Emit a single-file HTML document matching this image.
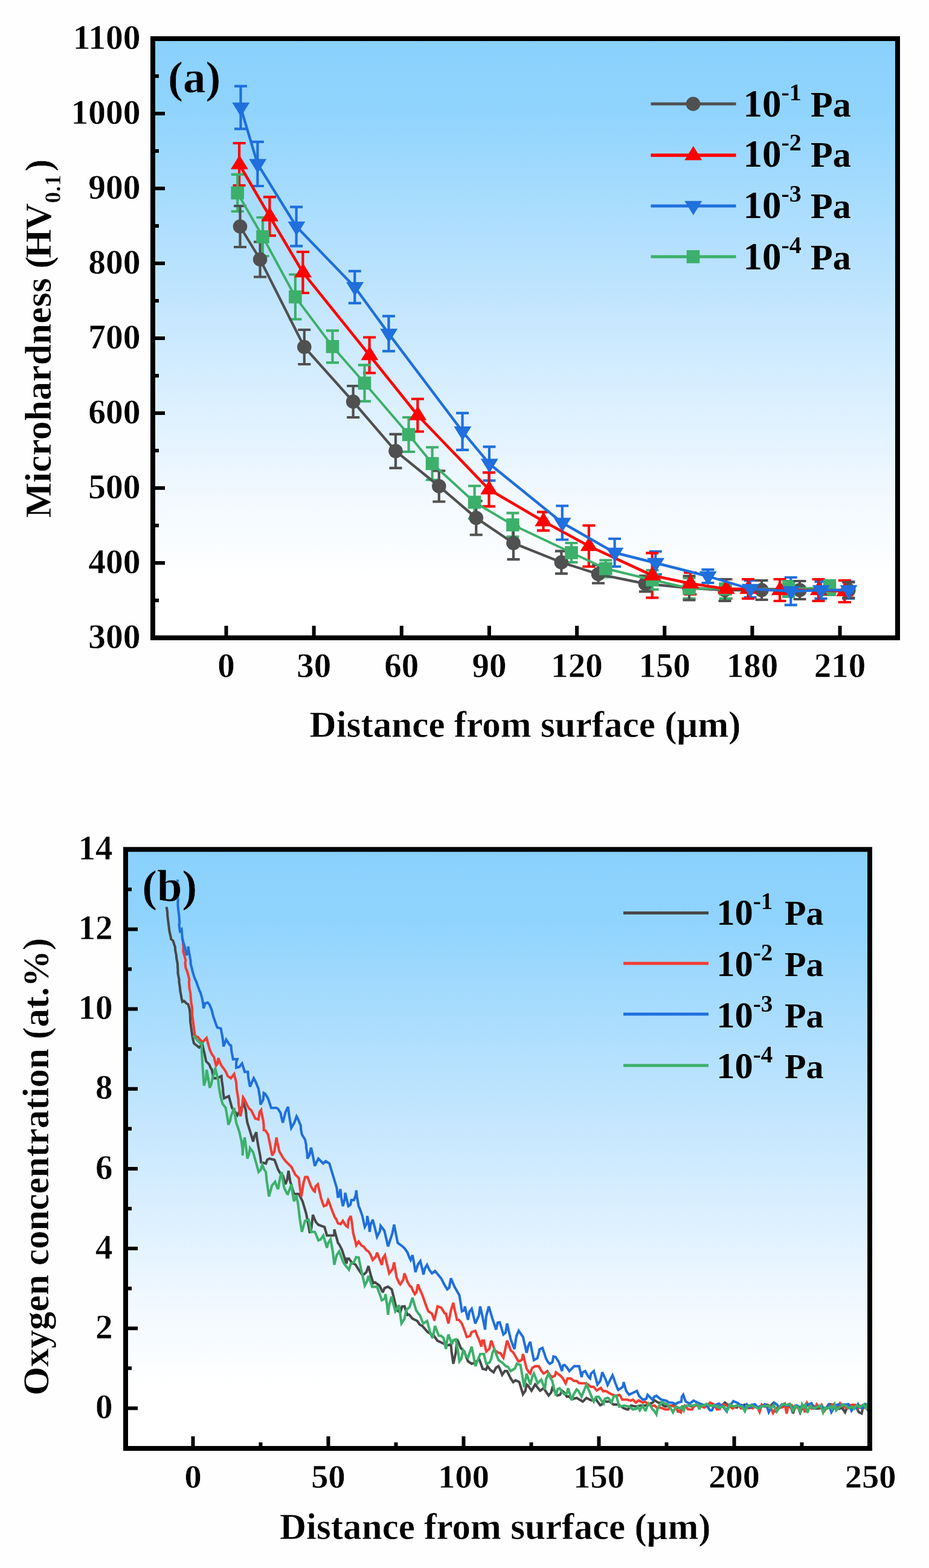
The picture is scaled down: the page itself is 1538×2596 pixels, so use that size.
<!DOCTYPE html>
<html lang="en">
<head>
<meta charset="utf-8">
<title>Microhardness and oxygen concentration profiles</title>
<style>
html,body{margin:0;padding:0;background:#fefefe;}
body{width:1538px;height:2596px;overflow:hidden;}
svg{display:block;}
text{font-kerning:normal;}
</style>
</head>
<body>
<svg width="1538" height="2596" viewBox="0 0 1538 2596" font-family='"Liberation Serif", "DejaVu Serif", serif' font-weight="bold" fill="#000">
<defs>
<linearGradient id="gA" x1="0" y1="0" x2="0" y2="1">
<stop offset="0" stop-color="#89d1fe"/><stop offset="0.12" stop-color="#90d4fd"/><stop offset="0.45" stop-color="#c4e6fe"/><stop offset="0.75" stop-color="#f0f8ff"/><stop offset="0.9" stop-color="#ffffff"/><stop offset="1" stop-color="#ffffff"/>
</linearGradient>
<linearGradient id="gB" x1="0" y1="0" x2="0" y2="1">
<stop offset="0" stop-color="#89d1fe"/><stop offset="0.12" stop-color="#90d4fd"/><stop offset="0.45" stop-color="#c4e6fe"/><stop offset="0.75" stop-color="#f0f8ff"/><stop offset="0.9" stop-color="#ffffff"/><stop offset="1" stop-color="#ffffff"/>
</linearGradient>
<linearGradient id="gAu" gradientUnits="userSpaceOnUse" x1="0" y1="64" x2="0" y2="1056">
<stop offset="0" stop-color="#89d1fe"/><stop offset="0.12" stop-color="#90d4fd"/><stop offset="0.45" stop-color="#c4e6fe"/><stop offset="0.75" stop-color="#f0f8ff"/><stop offset="0.9" stop-color="#ffffff"/><stop offset="1" stop-color="#ffffff"/>
</linearGradient>
<linearGradient id="gBu" gradientUnits="userSpaceOnUse" x1="0" y1="1406.3" x2="0" y2="2398">
<stop offset="0" stop-color="#89d1fe"/><stop offset="0.12" stop-color="#90d4fd"/><stop offset="0.45" stop-color="#c4e6fe"/><stop offset="0.75" stop-color="#f0f8ff"/><stop offset="0.9" stop-color="#ffffff"/><stop offset="1" stop-color="#ffffff"/>
</linearGradient>
</defs>
<rect width="1538" height="2596" fill="#fefefe"/>
<g id="chartA">
<rect x="253.0" y="64.0" width="1233.0" height="992.0" fill="url(#gA)"/>
<path d="M253.0,1056.00h20M253.0,932.00h20M253.0,808.00h20M253.0,684.00h20M253.0,560.00h20M253.0,436.00h20M253.0,312.00h20M253.0,188.00h20M253.0,64.00h20M253.0,994.00h10M253.0,870.00h10M253.0,746.00h10M253.0,622.00h10M253.0,498.00h10M253.0,374.00h10M253.0,250.00h10M253.0,126.00h10M374.50,1056.0v-20M519.65,1056.0v-20M664.80,1056.0v-20M809.95,1056.0v-20M955.10,1056.0v-20M1100.24,1056.0v-20M1245.39,1056.0v-20M1390.54,1056.0v-20" stroke="#000" stroke-width="6.0" fill="none"/>
<path d="M398.5,142.6V213.4M388.0,142.6h21M388.0,213.4h21M426.4,234.8V308.0M415.9,234.8h21M415.9,308.0h21M490.6,342.6V407.4M480.1,342.6h21M480.1,407.4h21M587.3,448.8V501.8M576.8,448.8h21M576.8,501.8h21M643.5,523.4V581.4M633.0,523.4h21M633.0,581.4h21M765.6,683.8V744.8M755.1,683.8h21M755.1,744.8h21M810.0,739.7V795.7M799.5,739.7h21M799.5,795.7h21M930.8,837.5V893.5M920.3,837.5h21M920.3,893.5h21M1017.6,892.0V938.0M1007.1,892.0h21M1007.1,938.0h21M1085.3,913.0V951.0M1074.8,913.0h21M1074.8,951.0h21M1171.9,943.0V965.0M1161.4,943.0h21M1161.4,965.0h21M1242.0,961.0V989.0M1231.5,961.0h21M1231.5,989.0h21M1309.2,956.0V1001.6M1298.7,956.0h21M1298.7,1001.6h21M1359.0,963.0V991.0M1348.5,963.0h21M1348.5,991.0h21M1404.8,963.0V991.0M1394.3,963.0h21M1394.3,991.0h21" stroke="#1f6fdc" stroke-width="4.2" fill="none"/><path d="M396.1,237.0V307.0M385.6,237.0h21M385.6,307.0h21M446.4,326.2V390.2M435.9,326.2h21M435.9,390.2h21M501.4,417.0V485.0M490.9,417.0h21M490.9,485.0h21M611.6,558.5V617.5M601.1,558.5h21M601.1,617.5h21M691.4,660.5V714.5M680.9,660.5h21M680.9,714.5h21M809.5,782.3V838.3M799.0,782.3h21M799.0,838.3h21M899.5,847.6V878.4M889.0,847.6h21M889.0,878.4h21M974.9,870.0V938.0M964.4,870.0h21M964.4,938.0h21M1079.7,915.7V989.7M1069.2,915.7h21M1069.2,989.7h21M1142.8,948.0V984.0M1132.3,948.0h21M1132.3,984.0h21M1202.0,959.0V991.0M1191.5,959.0h21M1191.5,991.0h21M1238.5,959.0V991.0M1228.0,959.0h21M1228.0,991.0h21M1291.0,959.0V995.0M1280.5,959.0h21M1280.5,995.0h21M1355.0,959.0V995.0M1344.5,959.0h21M1344.5,995.0h21M1398.3,961.0V997.0M1387.8,961.0h21M1387.8,997.0h21" stroke="#ff0000" stroke-width="4.2" fill="none"/><path d="M393.2,288.8V350.0M382.7,288.8h21M382.7,350.0h21M435.0,360.0V424.0M424.5,360.0h21M424.5,424.0h21M488.9,454.5V528.5M478.4,454.5h21M478.4,528.5h21M550.5,547.3V600.3M540.0,547.3h21M540.0,600.3h21M603.5,604.3V664.3M593.0,604.3h21M593.0,664.3h21M676.6,691.0V748.0M666.1,691.0h21M666.1,748.0h21M715.6,740.5V794.5M705.1,740.5h21M705.1,794.5h21M785.6,804.5V858.5M775.1,804.5h21M775.1,858.5h21M848.9,849.3V888.7M838.4,849.3h21M838.4,888.7h21M946.0,899.0V931.0M935.5,899.0h21M935.5,931.0h21M1002.8,927.5V955.5M992.3,927.5h21M992.3,955.5h21M1080.0,944.0V976.0M1069.5,944.0h21M1069.5,976.0h21M1141.0,957.0V991.0M1130.5,957.0h21M1130.5,991.0h21M1201.0,959.0V991.0M1190.5,959.0h21M1190.5,991.0h21M1305.6,962.0V988.0M1295.1,962.0h21M1295.1,988.0h21M1373.5,961.0V985.0M1363.0,961.0h21M1363.0,985.0h21" stroke="#3cb06a" stroke-width="4.2" fill="none"/><path d="M397.5,341.0V409.0M387.0,341.0h21M387.0,409.0h21M430.6,400.5V458.5M420.1,400.5h21M420.1,458.5h21M503.8,546.0V603.0M493.3,546.0h21M493.3,603.0h21M584.7,639.0V691.0M574.2,639.0h21M574.2,691.0h21M655.0,718.8V774.8M644.5,718.8h21M644.5,774.8h21M726.8,779.5V830.5M716.3,779.5h21M716.3,830.5h21M788.3,829.5V885.5M777.8,829.5h21M777.8,885.5h21M850.0,872.2V926.2M839.5,872.2h21M839.5,926.2h21M929.4,912.3V949.7M918.9,912.3h21M918.9,949.7h21M990.5,935.5V965.5M980.0,935.5h21M980.0,965.5h21M1068.4,953.4V979.4M1057.9,953.4h21M1057.9,979.4h21M1141.0,953.5V993.5M1130.5,953.5h21M1130.5,993.5h21M1200.0,959.0V995.0M1189.5,959.0h21M1189.5,995.0h21M1261.0,961.0V993.0M1250.5,961.0h21M1250.5,993.0h21M1324.0,962.0V992.0M1313.5,962.0h21M1313.5,992.0h21M1404.8,964.0V990.0M1394.3,964.0h21M1394.3,990.0h21" stroke="#505050" stroke-width="4.2" fill="none"/><path d="M397.5,375.0L430.6,429.5L503.8,574.5L584.7,665.0L655.0,746.8L726.8,805.0L788.3,857.5L850.0,899.2L929.4,931.0L990.5,950.5L1068.4,966.4L1141.0,973.5L1200.0,977.0L1261.0,977.0L1324.0,977.0L1404.8,977.0" stroke="#505050" stroke-width="4.3" stroke-linejoin="round" fill="none"/><circle cx="397.5" cy="375.0" r="11.8" fill="#505050"/><circle cx="430.6" cy="429.5" r="11.8" fill="#505050"/><circle cx="503.8" cy="574.5" r="11.8" fill="#505050"/><circle cx="584.7" cy="665.0" r="11.8" fill="#505050"/><circle cx="655.0" cy="746.8" r="11.8" fill="#505050"/><circle cx="726.8" cy="805.0" r="11.8" fill="#505050"/><circle cx="788.3" cy="857.5" r="11.8" fill="#505050"/><circle cx="850.0" cy="899.2" r="11.8" fill="#505050"/><circle cx="929.4" cy="931.0" r="11.8" fill="#505050"/><circle cx="990.5" cy="950.5" r="11.8" fill="#505050"/><circle cx="1068.4" cy="966.4" r="11.8" fill="#505050"/><circle cx="1141.0" cy="973.5" r="11.8" fill="#505050"/><circle cx="1200.0" cy="977.0" r="11.8" fill="#505050"/><circle cx="1261.0" cy="977.0" r="11.8" fill="#505050"/><circle cx="1324.0" cy="977.0" r="11.8" fill="#505050"/><circle cx="1404.8" cy="977.0" r="11.8" fill="#505050"/><path d="M393.2,319.4L435.0,392.0L488.9,491.5L550.5,573.8L603.5,634.3L676.6,719.5L715.6,767.5L785.6,831.5L848.9,869.0L946.0,915.0L1002.8,941.5L1080.0,960.0L1141.0,974.0L1201.0,975.0L1305.6,975.0L1373.5,973.0" stroke="#3cb06a" stroke-width="4.0" stroke-linejoin="round" fill="none"/><rect x="382.4" y="308.6" width="21.6" height="21.6" fill="#3cb06a"/><rect x="424.2" y="381.2" width="21.6" height="21.6" fill="#3cb06a"/><rect x="478.1" y="480.7" width="21.6" height="21.6" fill="#3cb06a"/><rect x="539.7" y="563.0" width="21.6" height="21.6" fill="#3cb06a"/><rect x="592.7" y="623.5" width="21.6" height="21.6" fill="#3cb06a"/><rect x="665.8" y="708.7" width="21.6" height="21.6" fill="#3cb06a"/><rect x="704.8" y="756.7" width="21.6" height="21.6" fill="#3cb06a"/><rect x="774.8" y="820.7" width="21.6" height="21.6" fill="#3cb06a"/><rect x="838.1" y="858.2" width="21.6" height="21.6" fill="#3cb06a"/><rect x="935.2" y="904.2" width="21.6" height="21.6" fill="#3cb06a"/><rect x="992.0" y="930.7" width="21.6" height="21.6" fill="#3cb06a"/><rect x="1069.2" y="949.2" width="21.6" height="21.6" fill="#3cb06a"/><rect x="1130.2" y="963.2" width="21.6" height="21.6" fill="#3cb06a"/><rect x="1190.2" y="964.2" width="21.6" height="21.6" fill="#3cb06a"/><rect x="1294.8" y="964.2" width="21.6" height="21.6" fill="#3cb06a"/><rect x="1362.7" y="962.2" width="21.6" height="21.6" fill="#3cb06a"/><path d="M396.1,272.0L446.4,358.2L501.4,451.0L611.6,588.0L691.4,687.5L809.5,810.3L899.5,863.0L974.9,904.0L1079.7,952.7L1142.8,966.0L1202.0,975.0L1238.5,975.0L1291.0,977.0L1355.0,977.0L1398.3,979.0" stroke="#ff0000" stroke-width="4.6" stroke-linejoin="round" fill="none"/><path d="M381.9,280.2h29l-14.5,-23.5z" fill="#ff0000"/><path d="M432.2,366.4h29l-14.5,-23.5z" fill="#ff0000"/><path d="M487.2,459.2h29l-14.5,-23.5z" fill="#ff0000"/><path d="M597.4,596.2h29l-14.5,-23.5z" fill="#ff0000"/><path d="M677.2,695.7h29l-14.5,-23.5z" fill="#ff0000"/><path d="M795.3,818.5h29l-14.5,-23.5z" fill="#ff0000"/><path d="M885.3,871.2h29l-14.5,-23.5z" fill="#ff0000"/><path d="M960.7,912.2h29l-14.5,-23.5z" fill="#ff0000"/><path d="M1065.5,960.9h29l-14.5,-23.5z" fill="#ff0000"/><path d="M1128.6,974.2h29l-14.5,-23.5z" fill="#ff0000"/><path d="M1187.8,983.2h29l-14.5,-23.5z" fill="#ff0000"/><path d="M1224.3,983.2h29l-14.5,-23.5z" fill="#ff0000"/><path d="M1276.8,985.2h29l-14.5,-23.5z" fill="#ff0000"/><path d="M1340.8,985.2h29l-14.5,-23.5z" fill="#ff0000"/><path d="M1384.1,987.2h29l-14.5,-23.5z" fill="#ff0000"/><path d="M398.5,178.0L426.4,271.4L490.6,375.0L587.3,475.3L643.5,552.4L765.6,714.3L810.0,767.7L930.8,865.5L1017.6,915.0L1085.3,932.0L1171.9,954.0L1242.0,975.0L1309.2,978.8L1359.0,977.0L1404.8,977.0" stroke="#1f6fdc" stroke-width="4.4" stroke-linejoin="round" fill="none"/><path d="M384.3,169.8h29l-14.5,23.5z" fill="#1f6fdc"/><path d="M412.2,263.2h29l-14.5,23.5z" fill="#1f6fdc"/><path d="M476.4,366.8h29l-14.5,23.5z" fill="#1f6fdc"/><path d="M573.1,467.1h29l-14.5,23.5z" fill="#1f6fdc"/><path d="M629.3,544.2h29l-14.5,23.5z" fill="#1f6fdc"/><path d="M751.4,706.1h29l-14.5,23.5z" fill="#1f6fdc"/><path d="M795.8,759.5h29l-14.5,23.5z" fill="#1f6fdc"/><path d="M916.6,857.3h29l-14.5,23.5z" fill="#1f6fdc"/><path d="M1003.4,906.8h29l-14.5,23.5z" fill="#1f6fdc"/><path d="M1071.1,923.8h29l-14.5,23.5z" fill="#1f6fdc"/><path d="M1157.7,945.8h29l-14.5,23.5z" fill="#1f6fdc"/><path d="M1227.8,966.8h29l-14.5,23.5z" fill="#1f6fdc"/><path d="M1295.0,970.6h29l-14.5,23.5z" fill="#1f6fdc"/><path d="M1344.8,968.8h29l-14.5,23.5z" fill="#1f6fdc"/><path d="M1390.6,968.8h29l-14.5,23.5z" fill="#1f6fdc"/>
<rect x="253.0" y="64.0" width="1233.0" height="992.0" fill="none" stroke="#000" stroke-width="8.0"/>
<text x="232.60" y="1072.60" font-size="57.5" text-anchor="end" stroke="#fefefe" stroke-width="0.5" stroke-linejoin="round" >300</text>
<text x="232.60" y="948.60" font-size="57.5" text-anchor="end" stroke="#fefefe" stroke-width="0.5" stroke-linejoin="round" >400</text>
<text x="232.60" y="824.60" font-size="57.5" text-anchor="end" stroke="#fefefe" stroke-width="0.5" stroke-linejoin="round" >500</text>
<text x="232.60" y="700.60" font-size="57.5" text-anchor="end" stroke="#fefefe" stroke-width="0.5" stroke-linejoin="round" >600</text>
<text x="232.60" y="576.60" font-size="57.5" text-anchor="end" stroke="#fefefe" stroke-width="0.5" stroke-linejoin="round" >700</text>
<text x="232.60" y="452.60" font-size="57.5" text-anchor="end" stroke="#fefefe" stroke-width="0.5" stroke-linejoin="round" >800</text>
<text x="232.60" y="328.60" font-size="57.5" text-anchor="end" stroke="#fefefe" stroke-width="0.5" stroke-linejoin="round" >900</text>
<text x="232.60" y="204.60" font-size="57.5" text-anchor="end" stroke="#fefefe" stroke-width="0.5" stroke-linejoin="round" >1000</text>
<text x="232.60" y="80.60" font-size="57.5" text-anchor="end" stroke="#fefefe" stroke-width="0.5" stroke-linejoin="round" >1100</text>
<text transform="translate(374.50,1121.00) scale(1.0000,0.9850)" font-size="57" text-anchor="middle" stroke="#fefefe" stroke-width="0.5" stroke-linejoin="round" >0</text>
<text transform="translate(519.65,1121.00) scale(1.0000,0.9850)" font-size="57" text-anchor="middle" stroke="#fefefe" stroke-width="0.5" stroke-linejoin="round" >30</text>
<text transform="translate(664.80,1121.00) scale(1.0000,0.9850)" font-size="57" text-anchor="middle" stroke="#fefefe" stroke-width="0.5" stroke-linejoin="round" >60</text>
<text transform="translate(809.95,1121.00) scale(1.0000,0.9850)" font-size="57" text-anchor="middle" stroke="#fefefe" stroke-width="0.5" stroke-linejoin="round" >90</text>
<text transform="translate(955.10,1121.00) scale(1.0000,0.9850)" font-size="57" text-anchor="middle" stroke="#fefefe" stroke-width="0.5" stroke-linejoin="round" >120</text>
<text transform="translate(1100.24,1121.00) scale(1.0000,0.9850)" font-size="57" text-anchor="middle" stroke="#fefefe" stroke-width="0.5" stroke-linejoin="round" >150</text>
<text transform="translate(1245.39,1121.00) scale(1.0000,0.9850)" font-size="57" text-anchor="middle" stroke="#fefefe" stroke-width="0.5" stroke-linejoin="round" >180</text>
<text transform="translate(1390.54,1121.00) scale(1.0000,0.9850)" font-size="57" text-anchor="middle" stroke="#fefefe" stroke-width="0.5" stroke-linejoin="round" >210</text>
<text x="869.50" y="1219.50" font-size="61.1" text-anchor="middle" stroke="#fefefe" stroke-width="0.5" stroke-linejoin="round" >Distance from surface (μm)</text>
<text transform="translate(83.50,560.40) rotate(-90)" font-size="61.8" text-anchor="middle" stroke="#fefefe" stroke-width="0.5" stroke-linejoin="round" >Microhardness (<tspan dx="-3.2">H</tspan><tspan dx="-1.7">V</tspan><tspan font-size="38" dy="16">0.1</tspan><tspan dy="-16" dx="4.9">)</tspan></text>
<text x="278.00" y="153.00" font-size="75" text-anchor="start" stroke="url(#gAu)" stroke-width="0.5" stroke-linejoin="round" >(a)</text>
<path d="M1077.5,172H1218.5" stroke="#505050" stroke-width="5.1" fill="none"/><circle cx="1147.5" cy="172.0" r="11.8" fill="#505050"/><text x="1230.50" y="193.00" font-size="63" text-anchor="start" >10<tspan font-size="40" dy="-27">-1</tspan><tspan dy="27" dx="0.2" font-size="60"> Pa</tspan></text><path d="M1077.5,257H1218.5" stroke="#ff0000" stroke-width="5.3999999999999995" fill="none"/><path d="M1133.3,265.2h29l-14.5,-23.5z" fill="#ff0000"/><text x="1230.50" y="276.00" font-size="63" text-anchor="start" >10<tspan font-size="40" dy="-27">-2</tspan><tspan dy="27" dx="0.2" font-size="60"> Pa</tspan></text><path d="M1077.5,341H1218.5" stroke="#1f6fdc" stroke-width="5.2" fill="none"/><path d="M1133.3,332.8h29l-14.5,23.5z" fill="#1f6fdc"/><text x="1230.50" y="360.50" font-size="63" text-anchor="start" >10<tspan font-size="40" dy="-27">-3</tspan><tspan dy="27" dx="0.2" font-size="60"> Pa</tspan></text><path d="M1077.5,425H1218.5" stroke="#3cb06a" stroke-width="4.8" fill="none"/><rect x="1136.7" y="414.2" width="21.6" height="21.6" fill="#3cb06a"/><text x="1230.50" y="445.50" font-size="63" text-anchor="start" >10<tspan font-size="40" dy="-27">-4</tspan><tspan dy="27" dx="0.2" font-size="60"> Pa</tspan></text>
</g>
<g id="chartB">
<rect x="208.0" y="1406.3" width="1232.0" height="991.7" fill="url(#gB)"/>
<path d="M208.0,2331.42h20M208.0,2199.26h20M208.0,2067.10h20M208.0,1934.94h20M208.0,1802.78h20M208.0,1670.62h20M208.0,1538.46h20M208.0,1406.30h20M208.0,2265.34h10M208.0,2133.18h10M208.0,2001.02h10M208.0,1868.86h10M208.0,1736.70h10M208.0,1604.54h10M208.0,1472.38h10M319.50,2398.0v-20M543.50,2398.0v-20M767.50,2398.0v-20M991.50,2398.0v-20M1215.50,2398.0v-20M1439.50,2398.0v-20M431.50,2398.0v-10M655.50,2398.0v-10M879.50,2398.0v-10M1103.50,2398.0v-10M1327.50,2398.0v-10" stroke="#000" stroke-width="6.0" fill="none"/>
<g fill="none" stroke-width="4.1" stroke-linejoin="miter" stroke-miterlimit="3" stroke-linecap="butt"><path d="M275.7,1501.5L277.2,1510.8L277.1,1514.3L280.4,1541.3L282.9,1552.3L283.1,1554.8L286.5,1557.5L288.3,1563.4L289.9,1568.2L290.2,1573.6L291.9,1581.7L292.0,1585.2L293.9,1595.2L294.6,1608.7L294.4,1610.5L296.6,1622.2L296.4,1625.4L298.0,1635.6L298.2,1639.7L300.0,1649.1L300.3,1652.0L302.0,1658.5L304.7,1657.2L308.7,1661.2L311.4,1662.6L313.5,1669.3L314.5,1676.5L314.8,1682.8L315.1,1691.5L318.4,1715.0L319.5,1720.8L321.0,1727.3L329.8,1734.3L335.0,1729.1L338.6,1744.6L341.2,1757.1L346.4,1762.3L348.9,1768.3L350.8,1771.1L352.4,1779.5L352.6,1785.1L359.6,1785.1L366.6,1781.6L367.2,1789.0L369.2,1802.6L369.3,1807.8L371.0,1818.4L378.8,1814.9L381.1,1823.3L384.1,1834.2L387.7,1838.4L392.9,1846.4L403.4,1827.2L406.9,1837.7L408.0,1849.3L409.5,1858.7L411.7,1865.6L413.9,1872.7L415.4,1877.7L419.1,1890.2L420.9,1881.6L424.4,1874.5L425.4,1884.7L427.9,1899.0L431.0,1914.9L432.1,1924.3L440.2,1926.3L442.4,1920.2L446.3,1918.2L454.4,1920.2L457.0,1926.9L460.4,1936.4L465.7,1945.3L468.5,1946.5L469.9,1951.5L472.6,1960.6L475.4,1953.3L477.6,1938.4L480.6,1956.6L482.2,1961.6L486.7,1976.8L494.8,1976.8L500.9,1988.9L503.2,1996.7L506.9,2009.2L513.0,2041.5L515.5,2033.3L518.0,2011.2L520.6,2018.0L523.1,2023.3L526.8,2027.5L531.2,2029.4L537.2,2031.4L538.2,2034.8L541.3,2045.5L551.4,2045.5L553.5,2044.8L553.4,2035.4L557.2,2049.1L559.5,2057.7L561.3,2059.9L565.5,2067.8L566.8,2071.2L569.6,2079.9L573.6,2092.0L574.8,2083.9L577.7,2083.9L583.3,2091.6L585.8,2092.0L588.6,2093.7L593.8,2102.1L599.3,2110.2L601.9,2110.2L606.5,2106.2L610.0,2096.1L614.1,2112.2L615.7,2116.9L618.1,2124.4L620.9,2123.1L628.2,2128.4L633.1,2138.5L634.3,2138.5L636.6,2132.6L642.4,2130.4L648.4,2134.5L651.1,2144.6L652.5,2150.7L655.0,2161.2L656.5,2168.8L662.6,2172.9L665.6,2163.2L669.6,2162.8L672.9,2172.2L674.7,2176.9L677.4,2176.4L682.8,2183.0L690.9,2187.0L694.9,2193.0L699.0,2195.1L708.1,2205.3L718.2,2211.4L724.3,2219.8L728.3,2221.5L740.4,2227.6L746.5,2225.5L747.6,2237.8L750.5,2257.9L754.8,2238.4L756.6,2217.5L759.2,2222.7L762.7,2231.6L768.7,2237.7L771.8,2246.3L774.8,2253.8L780.9,2257.9L786.9,2255.9L793.0,2249.8L794.4,2253.1L799.0,2266.0L804.6,2267.7L807.1,2261.9L811.9,2268.2L817.2,2272.0L821.3,2264.3L825.3,2261.9L827.3,2265.9L831.4,2276.1L835.7,2269.8L839.5,2270.0L845.5,2282.1L849.6,2288.2L853.6,2285.1L859.7,2288.2L865.8,2308.4L869.7,2302.7L871.8,2292.2L874.5,2294.4L879.9,2302.4L886.0,2292.2L894.1,2302.4L900.1,2298.3L908.2,2310.4L912.4,2305.5L914.3,2298.3L916.7,2301.0L922.4,2310.4L927.0,2309.3L930.4,2302.4L934.5,2305.8L938.5,2312.5L941.8,2311.8L946.6,2316.5L954.7,2314.5L964.8,2320.5L970.9,2314.5L979.0,2318.5L987.0,2316.5L988.1,2319.0L993.7,2326.4L996.2,2325.4L1000.3,2318.9L1004.3,2320.6L1009.3,2320.3L1015.6,2325.4L1023.7,2325.4L1033.4,2331.9L1039.6,2333.6L1044.7,2327.0L1052.8,2328.7L1060.9,2327.0L1069.0,2327.0L1080.3,2322.2L1083.4,2318.3L1090.0,2322.2L1093.4,2322.2L1098.1,2327.0L1101.9,2328.6L1107.8,2327.0L1117.5,2327.0L1118.9,2328.9L1122.3,2336.7L1125.5,2336.9L1128.8,2330.3L1138.5,2327.0L1148.2,2328.7L1152.3,2325.5L1157.9,2327.0L1167.6,2328.7L1177.3,2327.0L1187.0,2328.7L1192.9,2329.2L1200.0,2322.2L1206.4,2327.0L1220.0,2330.3L1222.9,2324.9L1226.1,2329.9L1229.5,2329.4L1232.4,2325.6L1236.3,2326.2L1240.3,2327.6L1243.9,2325.9L1247.1,2329.6L1251.1,2329.3L1255.9,2330.3L1260.6,2327.1L1264.0,2326.4L1269.2,2325.7L1272.4,2326.7L1275.3,2327.9L1279.9,2323.3L1284.3,2335.7L1288.7,2332.1L1291.6,2330.5L1295.5,2326.1L1298.3,2324.4L1302.3,2329.0L1305.3,2326.2L1310.1,2331.7L1312.9,2340.2L1316.7,2327.2L1320.5,2328.0L1324.7,2338.7L1329.5,2328.2L1334.0,2326.2L1337.0,2324.8L1342.0,2330.1L1346.8,2327.8L1351.0,2332.2L1355.7,2331.6L1360.2,2330.9L1363.9,2331.4L1368.3,2330.5L1371.9,2325.2L1375.4,2324.8L1378.9,2329.4L1382.1,2329.8L1385.6,2329.0L1389.6,2332.3L1393.9,2330.5L1399.0,2338.2L1403.5,2327.8L1406.3,2327.6L1409.1,2331.6L1413.2,2332.1L1417.2,2329.5L1421.9,2338.1L1426.5,2340.1L1429.5,2326.0L1433.4,2325.1L1438.5,2328.7" stroke="#484848"/><path d="M302.7,1554.8L303.6,1567.7L303.3,1575.0L306.1,1585.0L307.4,1589.8L306.5,1594.3L307.4,1601.9L310.1,1608.7L312.1,1616.4L313.5,1622.2L312.9,1626.0L313.5,1635.6L315.4,1645.2L315.5,1649.1L316.6,1660.0L318.2,1669.3L318.2,1680.1L322.8,1715.0L327.8,1717.2L335.0,1725.6L342.0,1718.5L344.6,1728.0L347.3,1737.8L350.9,1745.6L354.3,1750.1L355.2,1754.4L357.8,1764.1L360.0,1761.5L361.3,1751.8L364.8,1760.4L366.6,1764.1L371.8,1771.1L373.8,1774.4L377.1,1781.6L382.3,1785.1L387.6,1778.1L391.1,1792.1L391.9,1803.1L394.6,1820.2L395.0,1828.3L398.1,1848.2L400.2,1838.0L402.5,1816.7L404.4,1819.4L408.6,1828.9L412.6,1835.6L415.6,1837.7L422.6,1851.7L427.9,1853.4L429.9,1840.7L432.3,1837.7L432.6,1841.0L435.8,1855.2L436.7,1863.9L436.7,1871.0L439.2,1871.4L443.7,1878.0L447.2,1895.5L450.7,1913.0L454.3,1906.1L457.7,1883.2L459.1,1891.1L462.4,1906.1L468.1,1916.2L472.6,1922.2L482.7,1932.3L488.7,1944.5L494.8,1950.5L495.9,1961.6L498.8,1980.9L502.9,1956.6L505.3,1948.7L508.9,1948.5L510.1,1951.1L515.0,1964.7L519.3,1971.5L521.1,1972.8L522.7,1963.9L526.1,1960.6L530.3,1978.0L531.2,1982.9L534.9,1993.8L536.2,1997.0L540.4,1995.5L543.3,1986.9L544.6,1989.6L549.4,2003.1L554.0,2014.7L555.4,2017.2L556.3,2017.7L559.5,2025.3L563.9,2026.6L567.6,2021.3L572.6,2029.4L575.6,2031.4L577.0,2019.9L580.7,2013.2L582.9,2026.2L584.7,2041.5L588.3,2055.1L589.8,2061.7L593.8,2055.6L598.7,2062.4L601.9,2063.7L606.8,2070.1L610.0,2071.8L613.3,2076.9L617.1,2086.0L622.0,2080.9L624.2,2073.8L627.9,2083.7L632.2,2094.1L634.1,2082.8L637.3,2077.9L639.1,2086.4L644.4,2108.2L650.1,2100.7L652.5,2090.0L656.5,2114.3L660.9,2124.4L662.6,2126.4L667.6,2118.9L669.6,2108.2L671.5,2113.1L674.7,2122.4L679.0,2129.7L680.8,2130.4L684.0,2137.6L686.8,2142.6L689.4,2139.3L691.9,2126.4L695.1,2135.0L696.9,2138.5L700.2,2146.8L703.0,2154.7L706.4,2164.4L709.1,2170.9L715.1,2174.9L718.8,2185.0L719.2,2185.1L724.3,2162.9L730.3,2164.9L736.3,2174.6L738.4,2175.0L740.0,2182.0L742.4,2191.2L746.7,2168.9L750.5,2156.8L752.0,2165.3L756.6,2185.1L759.8,2185.2L764.7,2191.2L768.4,2200.9L772.8,2213.4L778.0,2211.8L780.9,2205.3L786.9,2203.3L791.0,2213.9L793.0,2217.5L797.0,2229.6L798.3,2219.7L801.1,2219.5L802.4,2226.6L805.1,2237.7L810.2,2232.9L813.2,2219.5L814.7,2223.1L819.3,2235.6L825.3,2239.7L828.1,2240.0L833.4,2247.8L839.5,2219.5L842.0,2225.5L845.5,2235.6L849.5,2239.0L853.6,2245.8L858.0,2253.7L859.7,2253.8L864.2,2251.1L865.8,2241.7L871.8,2266.0L876.2,2272.9L877.9,2274.1L880.9,2264.9L886.0,2261.9L892.0,2261.9L896.2,2269.6L900.1,2274.1L906.2,2270.0L910.7,2277.1L914.3,2280.1L918.7,2277.6L920.3,2272.0L928.4,2278.1L932.1,2282.5L936.5,2290.2L939.7,2282.3L944.6,2282.1L950.1,2286.2L954.7,2286.2L958.4,2289.7L962.8,2290.2L970.9,2290.2L978.0,2295.9L983.0,2296.3L987.8,2302.0L991.1,2300.3L994.6,2297.9L998.7,2303.5L1002.6,2302.8L1010.7,2307.6L1018.8,2310.9L1025.3,2309.2L1027.2,2311.3L1030.1,2317.3L1038.2,2317.3L1044.0,2318.9L1047.9,2317.3L1052.8,2322.2L1057.5,2318.5L1064.1,2322.2L1068.0,2320.6L1073.8,2325.4L1079.0,2327.9L1083.5,2327.0L1088.4,2331.4L1093.2,2330.3L1101.3,2333.5L1106.6,2333.5L1109.4,2327.0L1117.5,2328.7L1122.0,2334.9L1127.2,2338.4L1129.5,2331.1L1133.6,2327.0L1139.0,2333.1L1141.7,2333.5L1145.4,2333.7L1149.8,2327.0L1157.9,2327.0L1166.0,2330.3L1175.7,2322.2L1182.2,2325.4L1187.0,2333.5L1191.8,2332.6L1193.5,2327.0L1197.6,2325.2L1203.2,2327.0L1207.6,2327.6L1212.9,2331.9L1220.0,2327.0L1222.9,2327.6L1226.8,2331.8L1229.8,2331.2L1234.7,2328.7L1238.3,2331.6L1242.9,2330.7L1246.2,2331.6L1249.1,2326.1L1253.8,2329.6L1257.6,2337.5L1261.1,2325.3L1266.1,2329.0L1270.9,2328.9L1274.9,2327.5L1279.8,2339.3L1283.8,2332.2L1287.0,2330.8L1291.5,2330.6L1295.9,2329.6L1299.4,2325.3L1302.3,2340.4L1305.3,2325.7L1310.4,2326.0L1315.2,2332.1L1318.4,2329.7L1321.7,2330.0L1326.2,2330.4L1329.6,2328.0L1332.6,2338.2L1336.2,2323.0L1339.8,2329.0L1343.8,2332.2L1348.8,2331.3L1352.2,2325.1L1355.6,2329.7L1360.1,2325.6L1365.2,2335.6L1368.9,2329.9L1374.1,2328.0L1379.1,2325.1L1384.1,2329.7L1388.0,2326.4L1390.8,2323.1L1395.7,2328.6L1400.1,2330.6L1404.5,2331.1L1408.9,2326.0L1412.7,2325.9L1415.8,2326.0L1420.0,2332.2L1424.4,2328.0L1428.0,2332.0L1433.0,2329.6L1436.0,2326.0L1439.4,2326.0" stroke="#f43c32"/><path d="M293.9,1456.4L293.3,1470.5L294.6,1487.4L294.4,1497.9L295.3,1507.6L296.6,1517.5L297.3,1527.8L296.5,1531.3L298.0,1541.3L300.6,1538.6L302.0,1554.8L305.4,1566.3L306.0,1568.2L308.5,1579.2L308.7,1581.7L311.4,1575.7L311.4,1566.9L313.5,1579.0L315.6,1591.4L315.5,1595.2L318.1,1605.0L318.2,1606.0L320.1,1612.5L320.9,1615.4L323.1,1621.4L324.9,1624.9L327.6,1632.9L330.9,1641.7L331.6,1642.4L331.9,1643.5L334.3,1651.8L336.3,1661.8L337.0,1669.3L339.7,1661.2L343.8,1659.9L346.5,1662.6L350.5,1672.0L351.4,1676.1L353.2,1682.8L357.7,1696.1L359.6,1701.0L365.7,1702.8L368.9,1720.6L370.1,1732.6L374.5,1721.2L380.1,1729.8L382.3,1730.8L383.5,1741.6L385.8,1753.6L392.9,1753.6L391.2,1758.7L391.1,1767.6L396.1,1766.4L400.7,1760.6L402.4,1765.9L405.1,1774.6L410.4,1774.6L411.0,1783.6L413.9,1799.1L420.0,1785.1L422.8,1790.0L427.9,1802.6L430.3,1817.1L431.4,1828.9L435.8,1820.4L436.7,1809.6L439.0,1810.8L443.7,1818.4L448.9,1834.2L457.7,1834.2L460.5,1836.2L464.7,1842.9L465.4,1847.5L468.2,1858.7L472.4,1842.0L476.9,1832.4L478.5,1845.4L482.2,1867.5L487.4,1858.6L491.0,1848.2L492.7,1851.1L498.0,1864.0L498.2,1869.5L499.7,1878.0L505.0,1886.7L506.9,1895.5L506.9,1900.0L508.7,1910.2L508.9,1918.2L512.3,1912.4L515.0,1900.0L518.1,1914.1L521.1,1930.3L527.1,1918.2L535.2,1926.3L539.2,1922.4L545.3,1926.3L546.6,1930.6L551.4,1946.5L557.5,1966.7L559.5,1982.9L561.5,1979.2L563.5,1968.7L564.9,1982.3L567.6,1997.0L570.7,1985.0L571.6,1974.8L572.9,1981.1L576.7,1997.0L580.1,1994.7L581.7,1986.9L585.8,1986.9L589.0,1978.7L589.8,1970.7L591.3,1984.0L593.8,1997.0L596.1,2002.2L599.9,2013.2L603.9,2031.4L607.3,2025.4L608.0,2013.2L610.7,2027.1L612.0,2039.5L613.4,2028.2L617.1,2019.3L620.3,2031.6L624.2,2047.6L628.9,2038.3L630.2,2029.4L636.3,2037.5L639.9,2052.4L642.4,2063.7L649.4,2042.5L652.5,2027.3L655.0,2040.7L658.5,2057.7L666.6,2063.7L670.1,2067.0L674.7,2073.8L677.8,2082.1L679.8,2086.0L682.8,2077.9L685.1,2089.8L687.8,2106.2L691.9,2093.3L695.9,2088.0L699.8,2103.9L701.0,2110.2L703.4,2100.1L707.0,2094.1L711.0,2102.8L715.1,2108.2L720.2,2104.3L730.3,2116.4L736.3,2128.2L740.4,2134.6L743.7,2131.9L746.5,2116.4L752.6,2130.5L760.6,2144.7L764.7,2171.0L768.4,2169.4L769.7,2162.9L770.8,2168.6L774.8,2185.1L777.1,2171.8L780.9,2166.9L786.9,2191.2L792.8,2177.9L795.0,2162.9L798.8,2179.9L803.1,2201.3L804.8,2179.7L809.2,2162.9L810.9,2168.8L815.2,2183.1L821.3,2201.3L823.9,2189.7L827.3,2189.2L829.7,2197.0L833.4,2209.4L837.0,2206.2L839.5,2191.2L845.5,2217.5L848.9,2226.7L851.6,2233.6L855.0,2211.9L858.7,2203.3L865.8,2213.4L869.6,2229.5L871.8,2239.7L874.7,2227.9L877.9,2221.5L880.9,2237.9L883.9,2251.8L889.6,2248.7L892.0,2239.7L893.4,2233.9L898.1,2231.6L901.1,2240.5L904.2,2249.8L907.5,2255.5L910.2,2257.9L914.5,2255.3L916.3,2245.8L919.8,2246.7L924.4,2253.8L925.4,2255.8L930.4,2270.0L931.9,2261.0L934.5,2259.9L938.0,2263.3L942.6,2270.0L950.7,2261.9L958.7,2261.9L960.9,2271.1L962.8,2280.1L964.6,2272.2L968.8,2270.0L974.2,2279.4L976.9,2282.1L978.4,2274.3L983.0,2270.0L986.9,2283.9L989.1,2292.2L993.8,2286.3L997.1,2272.0L1001.0,2280.1L1002.9,2284.5L1005.9,2293.1L1014.0,2276.9L1015.7,2281.0L1018.8,2289.8L1022.8,2300.1L1023.7,2301.2L1028.5,2297.9L1031.2,2295.9L1032.6,2288.2L1033.2,2290.8L1036.6,2302.8L1041.5,2309.2L1047.9,2306.0L1054.4,2302.8L1057.7,2310.4L1059.2,2312.5L1064.1,2317.3L1069.8,2316.0L1072.2,2309.2L1080.3,2317.3L1083.1,2312.4L1086.7,2310.9L1094.8,2317.3L1102.9,2319.0L1107.6,2322.0L1112.6,2322.2L1118.9,2324.7L1122.3,2322.2L1128.0,2320.6L1128.8,2312.5L1131.2,2309.2L1133.3,2315.5L1135.3,2320.6L1141.7,2323.8L1148.2,2319.0L1154.7,2322.2L1162.8,2325.4L1170.8,2327.0L1173.4,2332.3L1175.7,2335.1L1178.7,2334.8L1182.2,2327.0L1190.3,2323.8L1196.7,2328.7L1203.2,2336.7L1206.5,2326.8L1209.7,2325.4L1214.1,2319.8L1220.0,2322.2L1223.9,2325.2L1228.6,2326.5L1231.5,2331.8L1236.4,2325.0L1241.1,2330.3L1245.0,2325.8L1249.7,2324.8L1253.8,2330.0L1258.9,2328.5L1263.0,2328.3L1265.9,2325.2L1269.9,2329.0L1272.7,2338.2L1277.1,2329.8L1282.3,2322.6L1286.6,2325.8L1289.8,2330.7L1294.2,2325.3L1298.7,2326.0L1302.9,2327.0L1306.7,2325.5L1310.4,2329.8L1315.2,2330.2L1319.0,2326.8L1323.0,2329.3L1325.6,2329.1L1329.3,2328.1L1333.7,2325.8L1338.6,2325.2L1343.5,2323.4L1347.7,2331.5L1350.7,2331.4L1354.6,2328.2L1359.0,2327.3L1363.5,2331.4L1368.1,2331.3L1372.3,2325.9L1376.4,2338.0L1380.8,2330.9L1384.4,2326.2L1388.5,2325.1L1391.9,2328.3L1396.3,2325.2L1400.5,2325.6L1404.7,2324.8L1409.8,2335.5L1413.2,2330.3L1417.8,2331.6L1420.7,2325.1L1423.7,2330.6L1428.0,2331.3L1432.0,2325.4L1437.2,2335.8" stroke="#1f6fdc"/><path d="M319.3,1715.0L322.5,1716.8L326.3,1722.0L331.5,1727.3L334.2,1727.3L333.9,1739.9L335.0,1758.8L337.7,1797.4L341.3,1785.3L342.0,1771.1L344.7,1784.8L347.3,1800.9L349.8,1795.0L352.6,1781.6L355.4,1775.6L356.1,1767.6L361.3,1788.6L362.3,1798.7L364.8,1813.1L365.4,1816.2L368.3,1827.2L373.6,1834.2L376.8,1852.3L378.0,1862.2L381.1,1855.7L382.3,1848.2L387.6,1834.2L388.5,1842.9L391.1,1858.7L393.3,1864.9L396.4,1874.5L399.9,1890.2L401.5,1903.6L401.6,1913.0L402.8,1895.1L405.1,1883.2L407.7,1901.9L409.5,1918.3L412.4,1910.0L413.9,1900.7L419.1,1907.8L425.3,1930.0L428.1,1940.4L431.5,1937.0L434.1,1928.3L437.7,1936.7L440.2,1940.4L441.4,1953.5L445.3,1980.9L450.3,1962.7L455.4,1956.6L458.8,1965.8L460.4,1968.7L463.8,1949.2L466.5,1940.4L467.9,1951.5L470.5,1966.7L475.3,1976.3L476.6,1976.8L482.7,1960.6L484.4,1975.6L486.7,1988.9L490.7,1978.8L493.5,1993.9L494.8,2005.1L496.4,2018.3L499.8,2039.5L504.9,2021.3L511.0,2019.3L513.8,2031.9L515.0,2039.5L521.1,2039.5L522.7,2042.6L527.1,2053.6L530.8,2052.1L535.2,2045.5L539.4,2059.4L541.3,2065.8L543.0,2058.6L547.3,2051.6L551.1,2073.3L553.4,2094.1L557.4,2077.8L561.5,2071.8L567.8,2088.5L569.6,2092.0L577.7,2102.1L581.0,2091.6L585.8,2090.0L589.5,2081.5L593.8,2081.9L597.9,2102.1L603.9,2128.4L608.0,2120.5L610.0,2112.2L616.1,2130.4L624.2,2130.4L632.2,2152.7L637.0,2149.9L638.3,2142.6L640.9,2161.7L642.4,2176.9L644.1,2160.9L648.4,2146.6L650.7,2156.6L654.5,2170.9L660.5,2160.8L664.6,2191.1L669.5,2183.6L672.7,2168.8L678.1,2164.1L682.8,2148.6L688.8,2168.8L693.2,2175.6L694.9,2176.9L699.7,2189.1L701.0,2191.1L707.0,2187.0L710.6,2199.7L712.1,2205.3L714.6,2212.1L716.2,2215.4L720.2,2195.2L726.3,2211.4L730.5,2211.7L734.4,2215.4L738.4,2233.6L739.5,2222.9L742.4,2209.4L746.9,2221.8L748.5,2225.5L750.1,2219.1L754.6,2217.5L757.8,2234.8L760.6,2253.8L763.8,2249.6L766.7,2235.6L771.2,2244.0L774.8,2247.8L780.9,2229.6L784.6,2248.7L786.9,2261.9L795.0,2241.7L801.1,2241.7L803.0,2249.9L805.1,2257.9L810.3,2255.8L813.2,2249.8L815.4,2239.1L818.3,2233.6L825.3,2251.8L831.4,2255.9L837.5,2261.9L841.0,2262.9L845.5,2270.0L852.6,2265.6L855.6,2257.9L861.7,2259.9L867.8,2296.3L871.8,2274.1L875.1,2284.1L877.9,2292.2L881.3,2279.0L883.9,2274.1L887.0,2281.8L890.0,2290.2L896.1,2284.2L902.1,2300.3L904.0,2283.3L908.2,2274.1L912.2,2283.3L914.3,2286.2L916.8,2297.0L920.3,2310.4L923.3,2299.8L926.4,2298.3L931.1,2305.5L934.5,2308.4L938.3,2307.4L940.5,2298.3L942.9,2306.2L946.6,2318.5L949.4,2309.1L954.7,2300.3L957.4,2302.6L962.8,2312.5L970.9,2292.2L976.9,2306.4L980.6,2315.4L983.0,2320.5L986.6,2312.9L991.1,2312.5L994.6,2317.3L999.4,2323.8L1001.5,2315.7L1005.9,2314.1L1007.8,2315.0L1012.3,2322.2L1016.3,2311.3L1020.4,2310.9L1021.6,2315.5L1025.3,2328.7L1033.4,2327.0L1041.5,2328.7L1047.9,2333.5L1053.3,2332.5L1056.0,2328.7L1059.2,2335.1L1064.1,2327.0L1067.8,2334.8L1069.0,2335.1L1073.8,2323.8L1076.8,2327.1L1080.3,2333.5L1082.0,2334.5L1086.7,2341.6L1088.2,2333.5L1091.6,2327.0L1096.1,2321.4L1101.3,2323.8L1104.0,2324.4L1109.4,2330.3L1114.2,2338.4L1119.1,2328.7L1125.9,2331.7L1128.8,2328.7L1132.0,2335.1L1134.2,2327.7L1138.5,2327.0L1146.6,2327.0L1154.7,2325.4L1157.9,2333.5L1159.5,2327.7L1164.4,2327.0L1169.8,2324.3L1174.1,2327.0L1183.8,2327.0L1190.3,2330.3L1198.3,2328.7L1203.2,2335.1L1205.5,2332.9L1208.0,2325.4L1214.5,2328.7L1220.0,2327.0L1225.1,2327.9L1228.5,2328.8L1233.2,2336.6L1236.4,2328.0L1240.2,2327.6L1243.8,2326.5L1248.2,2328.6L1252.3,2330.3L1256.1,2331.9L1261.2,2328.2L1264.7,2328.3L1269.3,2327.5L1271.9,2326.9L1275.8,2331.0L1280.9,2326.5L1285.9,2337.0L1290.9,2329.2L1295.7,2325.0L1299.1,2325.0L1302.5,2326.3L1307.4,2324.2L1312.6,2335.8L1316.3,2327.3L1320.3,2329.4L1325.1,2337.7L1327.8,2324.9L1330.6,2329.4L1333.2,2325.5L1336.7,2338.9L1341.4,2327.1L1344.7,2330.9L1349.8,2331.4L1354.2,2328.6L1358.8,2326.8L1362.7,2338.5L1366.1,2330.7L1370.1,2331.7L1375.1,2328.9L1377.7,2332.2L1381.7,2324.9L1384.3,2335.0L1388.9,2330.5L1393.0,2327.6L1396.0,2325.6L1400.7,2327.6L1405.5,2331.3L1410.0,2329.2L1414.2,2332.3L1418.3,2326.6L1423.3,2329.5L1426.2,2327.6L1429.6,2325.4L1433.9,2331.3L1437.1,2323.0" stroke="#3cb06a"/></g>
<rect x="208.0" y="1406.3" width="1232.0" height="991.7" fill="none" stroke="#000" stroke-width="8.0"/>
<text x="186.60" y="2348.02" font-size="57" text-anchor="end" stroke="#fefefe" stroke-width="0.5" stroke-linejoin="round" >0</text>
<text x="186.60" y="2215.86" font-size="57" text-anchor="end" stroke="#fefefe" stroke-width="0.5" stroke-linejoin="round" >2</text>
<text x="186.60" y="2083.70" font-size="57" text-anchor="end" stroke="#fefefe" stroke-width="0.5" stroke-linejoin="round" >4</text>
<text x="186.60" y="1951.54" font-size="57" text-anchor="end" stroke="#fefefe" stroke-width="0.5" stroke-linejoin="round" >6</text>
<text x="186.60" y="1819.38" font-size="57" text-anchor="end" stroke="#fefefe" stroke-width="0.5" stroke-linejoin="round" >8</text>
<text x="186.60" y="1687.22" font-size="57" text-anchor="end" stroke="#fefefe" stroke-width="0.5" stroke-linejoin="round" >10</text>
<text x="186.60" y="1555.06" font-size="57" text-anchor="end" stroke="#fefefe" stroke-width="0.5" stroke-linejoin="round" >12</text>
<text x="186.60" y="1422.90" font-size="57" text-anchor="end" stroke="#fefefe" stroke-width="0.5" stroke-linejoin="round" >14</text>
<text transform="translate(319.50,2463.00) scale(1.0000,0.9750)" font-size="56.5" text-anchor="middle" stroke="#fefefe" stroke-width="0.5" stroke-linejoin="round" >0</text>
<text transform="translate(543.50,2463.00) scale(1.0000,0.9750)" font-size="56.5" text-anchor="middle" stroke="#fefefe" stroke-width="0.5" stroke-linejoin="round" >50</text>
<text transform="translate(767.50,2463.00) scale(1.0000,0.9750)" font-size="56.5" text-anchor="middle" stroke="#fefefe" stroke-width="0.5" stroke-linejoin="round" >100</text>
<text transform="translate(991.50,2463.00) scale(1.0000,0.9750)" font-size="56.5" text-anchor="middle" stroke="#fefefe" stroke-width="0.5" stroke-linejoin="round" >150</text>
<text transform="translate(1215.50,2463.00) scale(1.0000,0.9750)" font-size="56.5" text-anchor="middle" stroke="#fefefe" stroke-width="0.5" stroke-linejoin="round" >200</text>
<text transform="translate(1441.00,2463.00) scale(1.0000,0.9750)" font-size="56.5" text-anchor="middle" stroke="#fefefe" stroke-width="0.5" stroke-linejoin="round" >250</text>
<text x="819.80" y="2548.00" font-size="61.1" text-anchor="middle" stroke="#fefefe" stroke-width="0.5" stroke-linejoin="round" >Distance from surface (μm)</text>
<text transform="translate(79.50,1931.70) rotate(-90)" font-size="61.0" text-anchor="middle" stroke="#fefefe" stroke-width="0.5" stroke-linejoin="round" >Oxygen concentration (at.%)</text>
<text x="235.30" y="1492.30" font-size="74.5" text-anchor="start" stroke="url(#gBu)" stroke-width="0.5" stroke-linejoin="round" >(b)</text>
<path d="M1032,1511.5H1173" stroke="#484848" stroke-width="5.2" fill="none"/><text x="1186.30" y="1531.20" font-size="60.5" text-anchor="start" >10<tspan font-size="39" dy="-26">-1</tspan><tspan dy="26" dx="5.3" font-size="58"> Pa</tspan></text><path d="M1032,1595H1173" stroke="#f43c32" stroke-width="5.2" fill="none"/><text x="1186.30" y="1615.70" font-size="60.5" text-anchor="start" >10<tspan font-size="39" dy="-26">-2</tspan><tspan dy="26" dx="5.3" font-size="58"> Pa</tspan></text><path d="M1032,1679H1173" stroke="#1f6fdc" stroke-width="5.2" fill="none"/><text x="1186.30" y="1700.50" font-size="60.5" text-anchor="start" >10<tspan font-size="39" dy="-26">-3</tspan><tspan dy="26" dx="5.3" font-size="58"> Pa</tspan></text><path d="M1032,1764H1173" stroke="#3cb06a" stroke-width="5.2" fill="none"/><text x="1186.30" y="1785.20" font-size="60.5" text-anchor="start" >10<tspan font-size="39" dy="-26">-4</tspan><tspan dy="26" dx="5.3" font-size="58"> Pa</tspan></text>
</g>
</svg>
</body>
</html>
